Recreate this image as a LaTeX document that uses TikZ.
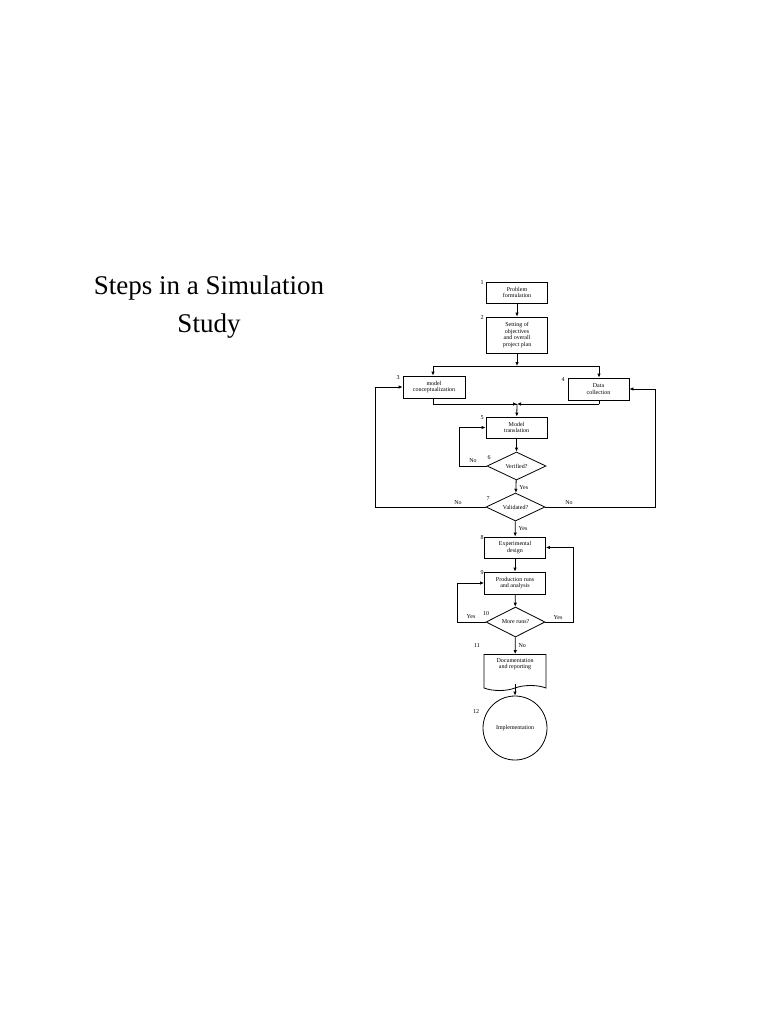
\documentclass[tikz,border=0pt]{standalone}
\usepackage{fontspec}
\setmainfont{Liberation Serif}
\usetikzlibrary{arrows.meta,shapes.geometric,shapes.symbols}
\begin{document}
\begin{tikzpicture}[x=1pt,y=-1pt,
  box/.style={draw,thick,minimum width=61pt,align=center,font=\fontsize{6}{6.5}\selectfont,inner sep=1pt},
  dia/.style={draw,thick,diamond,aspect=2.1,minimum width=59pt,minimum height=28pt,inner sep=0pt,font=\fontsize{6}{6.5}\selectfont},
  num/.style={font=\fontsize{6}{6}\selectfont,inner sep=0pt},
  lab/.style={font=\fontsize{6}{6}\selectfont,inner sep=0pt},
  arr/.style={thick,-{Latex[length=4pt,width=3.5pt]}},
  ln/.style={thick}]
\useasboundingbox (0,0) rectangle (768,1024);
\node[font=\fontsize{27}{38}\selectfont,align=center] (title) at (209,307) {Steps in a Simulation\\Study};
\node[box,minimum height=21pt] (b1) at (517,292.5) {Problem\\formulation};
\node[box,minimum height=36pt] (b2) at (517,335) {Setting of\\objectives\\and overall\\project plan};
\node[box,minimum height=22pt,minimum width=62pt] (b3) at (434,387) {model\\conceptualization};
\node[box,minimum height=22pt] (b4) at (598.5,389) {Data\\collection};
\node[box,minimum height=21pt] (b5) at (516.5,427.5) {Model\\translation};
\node[dia] (d6) at (516.5,466) {Verified?};
\node[dia] (d7) at (515.5,507) {Validated?};
\node[box,minimum height=21pt] (b8) at (515,547.5) {Experimental\\design};
\node[box,minimum height=22pt] (b9) at (515,583) {Production runs\\and analysis};
\node[dia,minimum height=30pt] (d10) at (515.5,622) {More runs?};
\node[draw,thick,tape,tape bend top=none,tape bend height=5pt,minimum width=62pt,minimum height=36pt,align=center,font=\fontsize{6}{6.5}\selectfont] (b11) at (515,670) {Documentation\\and reporting\\[6pt]};
\node[draw,thick,circle,minimum size=64pt,font=\fontsize{6}{6.5}\selectfont] (b12) at (515,728) {Implementation};
% numbers
\node[num] at (482,283) {1};
\node[num] at (482,318) {2};
\node[num] at (398,378) {3};
\node[num] at (563,380) {4};
\node[num] at (482,418) {5};
\node[num] at (489,458) {6};
\node[num] at (488,499) {7};
\node[num] at (482,538) {8};
\node[num] at (482,573) {9};
\node[num] at (486,614) {10};
\node[num] at (477,646) {11};
\node[num] at (476,712) {12};
% coordinates
\coordinate (s2) at (517,366);
\coordinate (sl) at (433,366);
\coordinate (sr) at (599,366);
\coordinate (m) at (517,404);
\coordinate (ml) at (433,404);
\coordinate (mr) at (599,404);
\draw[arr] (b1) -- (b2);
\draw[arr] (b2.south) -- (s2);
\draw[ln] (sl) -- (sr);
\draw[arr] (sl) -- (b3.north -| sl);
\draw[arr] (sr) -- (b4.north -| sr);
\draw[ln] (b3.south -| ml) -- (ml) -- (m);
\draw[arr] (ml) -- (m);
\draw[arr] (mr) -- (m);
\draw[ln] (b4.south -| mr) -- (mr);
\draw[arr] (m) -- (b5);
\draw[arr] (b5) -- (d6);
\draw[arr] (d6) -- node[lab,right=3pt,pos=0.6]{Yes} (d7);
\draw[arr] (d6.west) -- (459,466) |- (b5.west);
\node[lab] at (473,461) {No};
\draw[arr] (d7.west) -- (375,507) |- (b3.west);
\draw[arr] (d7.east) -- (655,507) |- (b4.east);
\node[lab] at (458,503) {No};
\node[lab] at (569,503) {No};
\draw[arr] (d7) -- node[lab,right=3pt,pos=0.5]{Yes} (b8);
\draw[arr] (b8) -- (b9);
\draw[arr] (b9) -- (d10);
\draw[arr] (d10.west) -- (457,622) |- (b9.west);
\draw[arr] (d10.east) -- (573,622) |- (b8.east);
\node[lab] at (471,617) {Yes};
\node[lab] at (558,618) {Yes};
\draw[arr] (d10) -- node[lab,right=3pt,pos=0.5]{No} (b11);
\draw[arr] (b11.south) ++(0,-2) -- (b12);
\end{tikzpicture}
\end{document}
